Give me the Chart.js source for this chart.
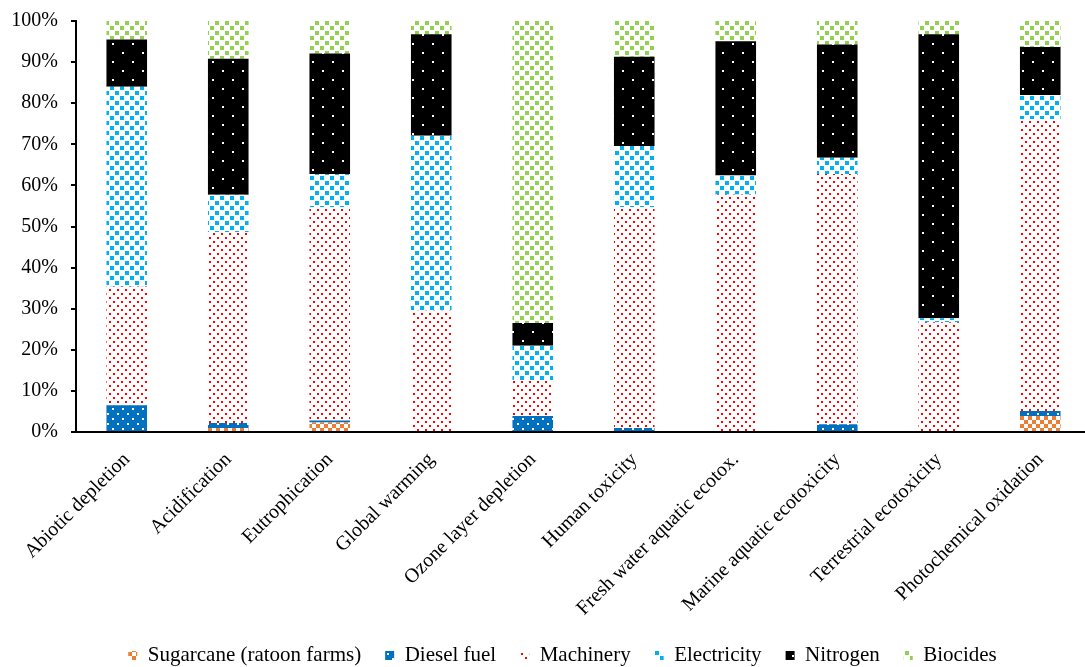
<!DOCTYPE html>
<html>
<head>
<meta charset="utf-8">
<script src="https://cdn.jsdelivr.net/npm/chart.js@4.4.1/dist/chart.umd.min.js"></script>
<style>
    html, body { margin: 0; padding: 0; background: #fff; overflow: hidden; }
    #wrap { position: relative; width: 1093px; height: 684px; margin-top: -4px; }
</style>
</head>
<body>
<div id="wrap"><canvas id="lcaChart"></canvas></div>
<script>
const categories = [
    'Abiotic depletion', 'Acidification', 'Eutrophication', 'Global warming',
    'Ozone layer depletion', 'Human toxicity', 'Fresh water aquatic ecotox.',
    'Marine aquatic ecotoxicity', 'Terrestrial ecotoxicity', 'Photochemical oxidation'
];

// shares in % per impact category
const sugarcane   = [0,    1.0,  2.3,  0,    0,    0,    0,    0,    0,    3.9];
const dieselFuel  = [6.5,  1.2,  0.5,  0,    3.9,  1.0,  0,    1.9,  0,    1.2];
const machinery   = [28.9, 46.4, 51.9, 29.5, 8.5,  53.7, 57.8, 60.9, 26.7, 71.0];
const electricity = [48.6, 9.1,  8.1,  42.6, 8.6,  14.9, 4.6,  3.9,  1.0,  5.9];
const nitrogen    = [11.5, 33.1, 29.3, 24.7, 5.5,  21.7, 32.7, 27.6, 69.1, 11.7];
const biocides    = [4.5,  9.2,  7.9,  3.2,  73.5, 8.7,  4.9,  5.7,  3.2,  6.3];

const yTicks = [0, 10, 20, 30, 40, 50, 60, 70, 80, 90, 100];

const FONT = "'Liberation Serif', 'Times New Roman', serif";

function makePattern(size, bg, draw) {
    const c = document.createElement('canvas');
    c.width = size[0];
    c.height = size[1];
    const g = c.getContext('2d');
    g.fillStyle = bg;
    g.fillRect(0, 0, c.width, c.height);
    draw(g);
    return g.createPattern(c, 'repeat');
}

const ctx = document.getElementById('lcaChart').getContext('2d');

const patSugar = makePattern([8, 8], '#ffffff', g => {
    g.fillStyle = '#ED7D31';
    g.fillRect(0, 0, 4, 4);
    g.fillRect(4, 4, 4, 4);
});
const patDiesel = makePattern([10, 10], '#0070C0', g => {
    g.fillStyle = '#ffffff';
    g.fillRect(2, 2, 2, 2);
    g.fillRect(7, 7, 2, 2);
});
const patMachinery = makePattern([8, 8], '#ffffff', g => {
    g.fillStyle = '#FF0000';
    g.fillRect(1, 1, 2, 2);
    g.fillRect(5, 5, 2, 2);
});
const patElectricity = makePattern([10, 10], '#ffffff', g => {
    g.fillStyle = '#00B0F0';
    g.fillRect(0, 0, 4, 4);
    g.fillRect(5, 5, 4, 4);
});
const patNitrogen = makePattern([20, 18], '#000000', g => {
    g.fillStyle = '#ffffff';
    g.fillRect(2, 2, 2, 2);
    g.fillRect(12, 11, 2, 2);
});
const patBiocides = makePattern([10, 10], '#ffffff', g => {
    g.fillStyle = '#92D050';
    g.fillRect(0, 0, 4, 4);
    g.fillRect(5, 5, 4, 4);
});

function series(label, data, fill) {
    return {
        label: label,
        data: data,
        backgroundColor: fill,
        borderWidth: 0,
        barPercentage: 0.4,
        categoryPercentage: 1.0
    };
}

// nudge the legend a bit to the right, like the original
const legendShift = {
    id: 'legendShift',
    afterLayout(chart) {
        chart.legend.left += 17;
        chart.legend.right += 17;
    }
};

new Chart(ctx, {
    type: 'bar',
    data: {
        labels: categories,
        datasets: [
            series('Sugarcane (ratoon farms)', sugarcane, patSugar),
            series('Diesel fuel', dieselFuel, patDiesel),
            series('Machinery', machinery, patMachinery),
            series('Electricity', electricity, patElectricity),
            series('Nitrogen', nitrogen, patNitrogen),
            series('Biocides', biocides, patBiocides)
        ]
    },
    plugins: [legendShift],
    options: {
        responsive: true,
        maintainAspectRatio: false,
        animation: false,
        layout: {
            padding: { top: 8, right: 2, bottom: 4, left: 0 }
        },
        plugins: {
            legend: {
                position: 'bottom',
                labels: {
                    color: '#000',
                    boxWidth: 9,
                    boxHeight: 9,
                    padding: 24,
                    font: { family: FONT, size: 21 }
                }
            },
            tooltip: { enabled: false }
        },
        scales: {
            x: {
                stacked: true,
                grid: {
                    display: true,
                    drawOnChartArea: false,
                    drawTicks: false,
                    color: 'rgba(0,0,0,0)'
                },
                border: { display: true, color: '#000', width: 2 },
                ticks: {
                    color: '#000',
                    maxRotation: 45,
                    minRotation: 45,
                    autoSkip: false,
                    padding: 16,
                    font: { family: FONT, size: 20 }
                },
                afterFit: scale => { scale.height = 189; }
            },
            y: {
                stacked: true,
                min: 0,
                max: 100,
                afterBuildTicks: scale => {
                    scale.ticks = yTicks.map(v => ({ value: v }));
                },
                grid: {
                    display: true,
                    drawOnChartArea: false,
                    drawTicks: true,
                    tickLength: 5,
                    color: '#000',
                    lineWidth: 2
                },
                border: { display: true, color: '#000', width: 2 },
                ticks: {
                    color: '#000',
                    padding: 13,
                    font: { family: FONT, size: 20 },
                    callback: v => v + '%'
                },
                afterFit: scale => { scale.width = 76; }
            }
        }
    }
});
</script>
</body>
</html>
